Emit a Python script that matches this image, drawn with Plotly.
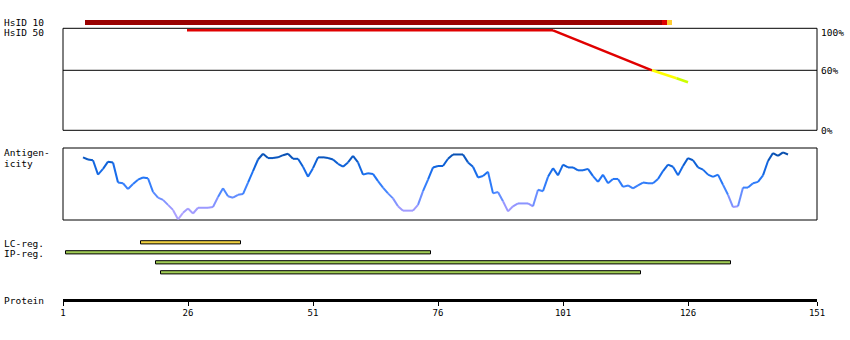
import plotly.graph_objects as go

# ---------------- data ----------------
residue_ticks = [1, 26, 51, 76, 101, 126, 151]
axis_end = 151.8

hsid10_bounds = [5.4, 120.8, 121.8, 122.8]
hsid10_colors = ["#990000", "#dd0000", "#ffcc33"]

hsid50_x = [25.8, 99.0, 118.8, 123.7, 126.0]
hsid50_pct = [100, 100, 60, 52, 48]
hsid50_colors = ["#e00000", "#e00000", "#ffff00", "#ccff00"]
identity_ticks = [100, 60, 0]

anti_start = 5
antigenicity = [
    87, 84, 83, 63, 71, 81, 80, 52, 51, 43, 50, 56, 59, 58, 39, 31, 28, 21, 14, 1,
    10, 16, 9, 17, 17, 17, 18, 32, 44, 33, 31, 35, 36, 52, 68, 84, 92, 86, 86, 87,
    90, 92, 85, 85, 74, 60, 72, 87, 87, 86, 84, 78, 74, 80, 89, 80, 63, 65, 64, 54,
    45, 37, 30, 19, 13, 13, 13, 21, 40, 56, 73, 75, 75, 85, 91, 91, 91, 80, 74, 59,
    61, 67, 37, 39, 26, 12, 19, 23, 23, 23, 19, 42, 40, 60, 72, 62, 77, 73, 73, 69,
    69, 71, 61, 53, 63, 51, 57, 57, 46, 48, 44, 48, 52, 51, 51, 57, 68, 77, 74, 62,
    75, 86, 83, 73, 70, 63, 60, 63, 49, 35, 18, 19, 45, 45, 51, 53, 62, 82, 93, 89,
    94, 91,
]

lc_start = [16]
lc_end = [36]
ip_start = [1, 19, 20]
ip_end = [74, 134, 116]

# ---------------- layout helpers ----------------
W, H = 850, 340
def py(Y):
    return 1 - Y / H

FONT = "DejaVu Sans Mono"
anti_stops = [(0.0, (184, 168, 255)), (0.2, (150, 150, 255)), (0.4, (70, 135, 255)),
              (0.6, (30, 115, 245)), (0.8, (12, 95, 212)), (0.92, (10, 80, 175)),
              (1.0, (10, 62, 130))]

def anti_color(v):
    t = max(0.0, min(1.0, v / 100))
    for (a, ca), (b, cb) in zip(anti_stops[:-1], anti_stops[1:]):
        if t <= b:
            f = (t - a) / (b - a)
            c = [round(ca[i] + (cb[i] - ca[i]) * f) for i in range(3)]
            return "rgb(%d,%d,%d)" % tuple(c)
    return "rgb(%d,%d,%d)" % anti_stops[-1][1]

fig = go.Figure()

# HsID 50 identity line
for i in range(len(hsid50_x) - 1):
    fig.add_trace(go.Scatter(x=hsid50_x[i:i + 2], y=hsid50_pct[i:i + 2], mode="lines",
                             line=dict(color=hsid50_colors[i], width=2.5),
                             xaxis="x", yaxis="y", hoverinfo="skip"))

# antigenicity curve
anti_x = [anti_start + i for i in range(len(antigenicity))]
for i in range(len(antigenicity) - 1):
    v = (antigenicity[i] + antigenicity[i + 1]) / 2
    fig.add_trace(go.Scatter(x=anti_x[i:i + 2], y=antigenicity[i:i + 2], mode="lines",
                             line=dict(color=anti_color(v), width=2),
                             xaxis="x", yaxis="y2", hoverinfo="skip"))

shapes = []
# panel boxes
shapes.append(dict(type="rect", xref="x domain", yref="y domain", x0=0, x1=1, y0=0, y1=1,
                   line=dict(color="black", width=1), layer="below"))
shapes.append(dict(type="line", xref="x domain", yref="y", x0=0, x1=1, y0=60, y1=60,
                   line=dict(color="black", width=1), layer="below"))
shapes.append(dict(type="rect", xref="x domain", yref="y2 domain", x0=0, x1=1, y0=0, y1=1,
                   line=dict(color="black", width=1), layer="below"))

# HsID 10 bar
for i in range(len(hsid10_colors)):
    shapes.append(dict(type="rect", xref="x", yref="paper",
                       x0=hsid10_bounds[i], x1=hsid10_bounds[i + 1],
                       y0=py(25), y1=py(20), fillcolor=hsid10_colors[i],
                       line=dict(width=0)))

# region bars
def add_bar(s, e, row_y, fill):
    shapes.append(dict(type="rect", xref="x", yref="paper", x0=s + 0.5, x1=e + 0.5,
                       y0=py(row_y + 1.6), y1=py(row_y - 1.6), fillcolor=fill,
                       line=dict(color="black", width=1)))

for s, e in zip(lc_start, lc_end):
    add_bar(s, e, 242.3, "#f0d040")
for k, (s, e) in enumerate(zip(ip_start, ip_end)):
    add_bar(s, e, 252.3 + 10 * k, "#a0cc55")

annotations = []
def label(text, Y, x=2):
    annotations.append(dict(text=text, xref="paper", yref="paper", x=x / W, y=py(Y),
                            xanchor="left", yanchor="middle", showarrow=False,
                            font=dict(family=FONT, size=9.5, color="black")))

label("HsID 10", 22.7)
label("HsID 50", 32.5)
label("Antigen-", 153)
label("icity", 163)
label("LC-reg.", 243.5)
label("IP-reg.", 253)
label("Protein", 300)

for p in identity_ticks:
    annotations.append(dict(text="%d%%" % p, xref="paper", yref="y", x=819 / W, y=p,
                            xanchor="left", yanchor="middle", showarrow=False,
                            yshift=-2 if p == 100 else 0,
                            font=dict(family=FONT, size=9.5, color="black")))

tickvals = [t if t < residue_ticks[-1] else axis_end for t in residue_ticks]

fig.update_layout(
    template="none",
    width=W, height=H, margin=dict(l=0, r=0, t=0, b=0, pad=0),
    paper_bgcolor="white", plot_bgcolor="white", showlegend=False,
    xaxis=dict(domain=[63 / W, 817 / W], range=[1, axis_end], anchor="free",
               position=py(299.5), showline=True, linewidth=3, linecolor="black",
               ticks="outside", ticklen=4, tickwidth=1, tickcolor="black",
               tickvals=tickvals, ticktext=[str(t) for t in residue_ticks],
               tickfont=dict(family=FONT, size=9, color="black"),
               showgrid=False, zeroline=False, fixedrange=True, automargin=False),
    yaxis=dict(domain=[py(130.3), py(28.3)], range=[0, 102], visible=False,
               fixedrange=True, automargin=False),
    yaxis2=dict(domain=[py(220), py(148)], range=[0, 100], visible=False,
                fixedrange=True, automargin=False),
    shapes=shapes, annotations=annotations,
)

fig.write_html("out.html")
